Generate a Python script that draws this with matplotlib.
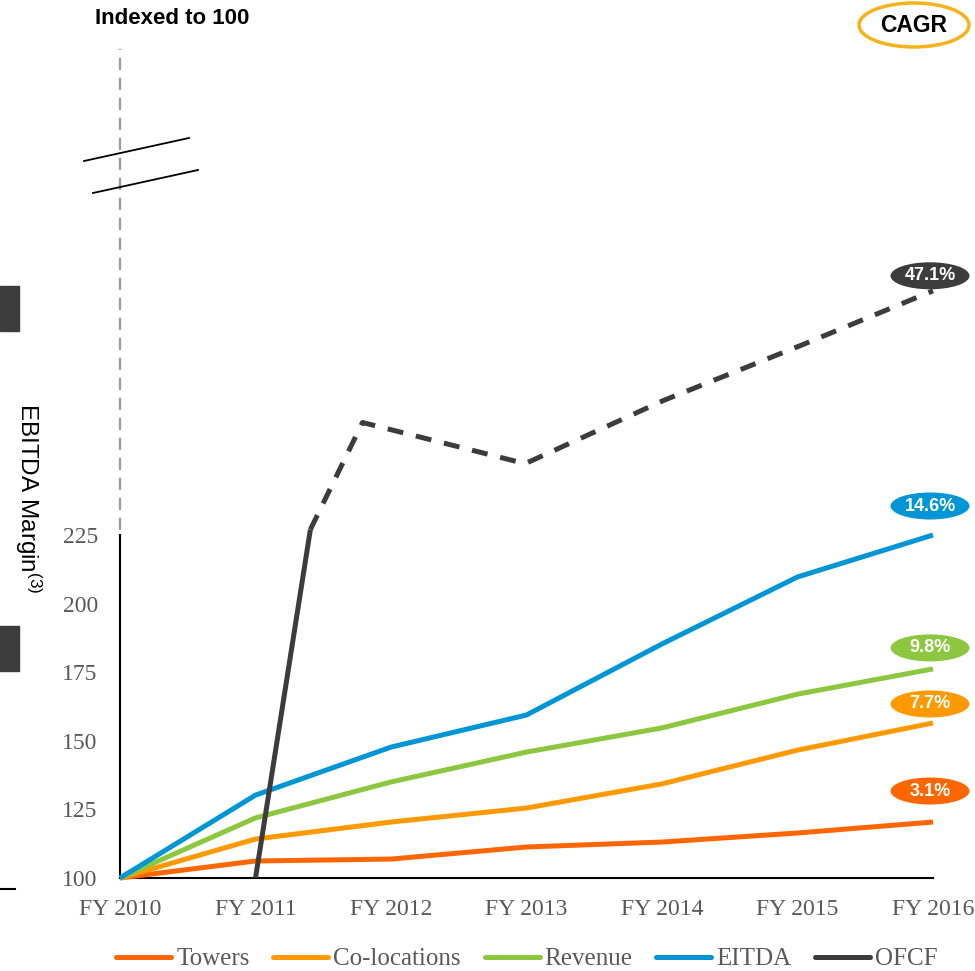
import numpy as np
import matplotlib
matplotlib.use("Agg")
import matplotlib.pyplot as plt
from matplotlib.patches import Ellipse, Rectangle
from matplotlib.lines import Line2D

plt.rcParams['mathtext.fontset'] = 'custom'
plt.rcParams['mathtext.rm'] = 'Liberation Sans'
plt.rcParams['mathtext.default'] = 'regular'

########### data (index, FY2010 = 100)
years = ['FY 2010', 'FY 2011', 'FY 2012', 'FY 2013', 'FY 2014', 'FY 2015', 'FY 2016']
towers = [100, 106.2, 106.9, 111.3, 113.1, 116.4, 120.4]
colocations = [100, 114.2, 120.4, 125.5, 134.3, 146.6, 156.5]
revenue = [100, 121.9, 135.0, 145.9, 154.7, 167.0, 176.2]
ebitda = [100, 130.2, 147.7, 159.4, 185.3, 209.7, 225.0]
# OFCF is drawn on the broken part of the axis (values are display-scaled)
ofcf_x = [1.0, 1.405, 1.79, 2.99, 4.01, 5.02, 6.0]
ofcf_y = [100, 227, 266, 251, 274, 294, 314]

names = ['Towers', 'Co-locations', 'Revenue', 'EITDA', 'OFCF']
colors = ['#FF6600', '#FF9900', '#8DC63F', '#0096D6', '#3C3C3C']
cagr = ['3.1%', '7.7%', '9.8%', '14.6%', '47.1%']
label_off = [31, 19, 21, 29, 15]   # pixels above the line end

yticks = [100, 125, 150, 175, 200, 225]

W, H = 975, 971
fig = plt.figure(figsize=(W / 100, H / 100), dpi=100)
ax = fig.add_axes([120 / W, 1 - 878 / H, (933 - 120) / W, 878 / H])
ax.set_xlim(0, 6)
ax.set_ylim(100, 100 + 878 / 2.744)

lw = 3.6
series = [towers, colocations, revenue, ebitda]
xs = np.arange(len(years))
for vals, c in zip(series, colors[:4]):
    ax.plot(xs, vals, color=c, lw=lw, solid_capstyle='butt', clip_on=False, zorder=3)
ax.plot(ofcf_x[:2], ofcf_y[:2], color=colors[4], lw=lw, solid_capstyle='butt', zorder=4)
ax.plot(ofcf_x[1:], ofcf_y[1:], color=colors[4], lw=lw, dashes=(3.2, 2.6),
        clip_on=False, zorder=4)

for s in ['top', 'right', 'left']:
    ax.spines[s].set_visible(False)
ax.spines['bottom'].set_color('black')
ax.spines['bottom'].set_linewidth(1.5)
ax.plot([0, 0], [100, 225], color='black', lw=1.5, clip_on=False, zorder=2)
ax.plot([0, 0], [227, 402], color='#9A9A9A', lw=1.6, dashes=(5.5, 3.5), clip_on=False)

ax.set_xticks(xs)
ax.set_xticklabels(years, family='Liberation Serif', fontsize=17, color='#595959')
ax.set_yticks(yticks)
ax.set_yticklabels([str(t) for t in yticks], family='Liberation Serif', fontsize=17,
                   color='#595959')
ax.tick_params(axis='both', length=0)
ax.tick_params(axis='y', pad=16)
ax.tick_params(axis='x', pad=15)

# axis break marks
for (x1, y1), (x2, y2) in [((84, 161), (189, 138)), ((93, 193), (198, 170))]:
    fig.add_artist(Line2D([x1 / W, x2 / W], [1 - y1 / H, 1 - y2 / H],
                          color='black', lw=1.3))

# CAGR bubbles
ends = [towers[-1], colocations[-1], revenue[-1], ebitda[-1], ofcf_y[-1]]
for val, c, txt, off in zip(ends, colors, cagr, label_off):
    px, py = ax.transData.transform((6.0, val))
    fx, fy = (px - 3) / W, (py + off) / H
    fig.add_artist(Ellipse((fx, fy), 79 / W, 27 / H, facecolor=c, edgecolor='none'))
    fig.text(fx, fy, txt, ha='center', va='center', color='white', fontsize=13,
             fontweight='bold', family='Liberation Sans')

fig.add_artist(Ellipse((914 / W, 1 - 25 / H), 110 / W, 44 / H, facecolor='white',
                       edgecolor='#F5B21B', lw=2.5))
fig.text(914 / W, 1 - 26 / H, 'CAGR', ha='center', va='center', fontsize=16.5,
         fontweight='bold', family='Liberation Sans')
fig.text(95 / W, 1 - 18 / H, 'Indexed to 100', ha='left', va='center', fontsize=16,
         fontweight='bold', family='Liberation Sans')

# cut-off bits on the left edge
fig.add_artist(Rectangle((0, 1 - 331 / H), 19 / W, 45 / H, color='#3C3C3C'))
fig.add_artist(Rectangle((0, 1 - 671 / H), 19 / W, 45 / H, color='#3C3C3C'))
fig.add_artist(Line2D([0, 15 / W], [1 - 889 / H, 1 - 889 / H], color='black', lw=1.5))
fig.text(28 / W, 1 - 498 / H, 'EBITDA Margin$^{(3)}$', rotation=270, ha='center',
         va='center', fontsize=17.5, family='Liberation Sans')

handles = [Line2D([], [], color=c, lw=lw, solid_capstyle='round') for c in colors]
leg = fig.legend(handles, names, loc='center', bbox_to_anchor=(527 / W, 1 - 959 / H),
                 ncol=5, frameon=False, handlelength=2.2, handletextpad=0.2,
                 columnspacing=0.95, prop={'family': 'Liberation Serif', 'size': 18})
for t in leg.get_texts():
    t.set_color('#595959')

fig.savefig('out.png', dpi=100)
